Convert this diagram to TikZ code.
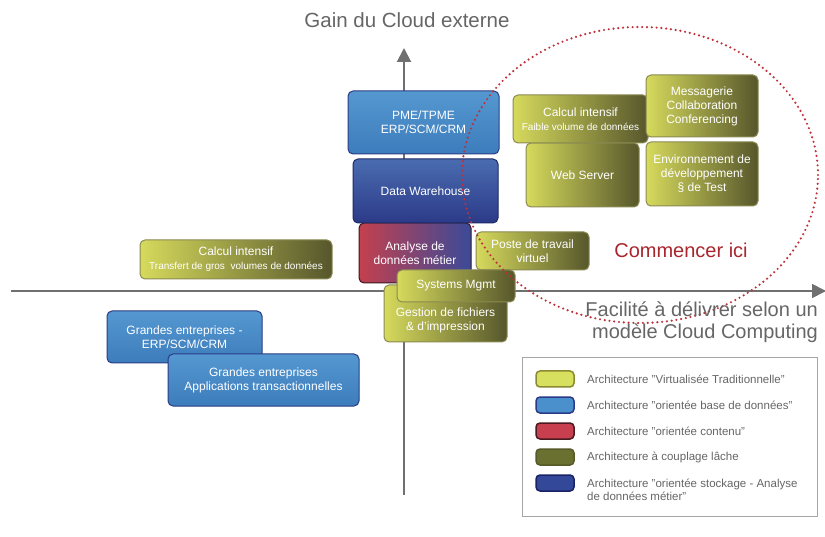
\documentclass[tikz,border=0pt]{standalone}
\usepackage{fontspec}
\setmainfont{Liberation Sans}
\usetikzlibrary{arrows.meta}
\definecolor{ylL}{HTML}{D6DA5C}
\definecolor{ylR}{HTML}{56562C}
\definecolor{ylB}{HTML}{8A8A52}
\definecolor{blT}{HTML}{5598D0}
\definecolor{blM}{HTML}{3C7CBC}
\definecolor{blB}{HTML}{2B3C84}
\definecolor{dwT}{HTML}{4A6CB0}
\definecolor{dwM}{HTML}{2C3A88}
\definecolor{dwB}{HTML}{1E2A66}
\definecolor{anL}{HTML}{C4404E}
\definecolor{anR}{HTML}{3A4A98}
\definecolor{anB}{HTML}{3C1820}
\definecolor{axisgray}{HTML}{707070}
\definecolor{txtgray}{HTML}{666666}
\definecolor{dotred}{HTML}{C0303A}
\definecolor{startred}{HTML}{A8262E}
\definecolor{legY}{HTML}{D8E060}
\definecolor{legYB}{HTML}{8A8A30}
\definecolor{legBl}{HTML}{4A90CC}
\definecolor{legBlB}{HTML}{2A3A88}
\definecolor{legR}{HTML}{C8404F}
\definecolor{legRB}{HTML}{4A1A20}
\definecolor{legO}{HTML}{6A7030}
\definecolor{legOB}{HTML}{555A28}
\definecolor{legD}{HTML}{34489A}
\definecolor{legDB}{HTML}{1A2266}
\begin{document}
\begin{tikzpicture}[x=1pt,y=-1pt,
  bx/.style={rounded corners=5pt, inner sep=0pt, align=center, text=white,
    font=\fontsize{12}{14}\selectfont, line width=1pt},
  ybox/.style={bx, left color=ylL, right color=ylR, draw=ylB},
  bbox/.style={bx, top color=blT, bottom color=blM, draw=blB},
  dwbox/.style={bx, top color=dwT, bottom color=dwM, draw=dwB},
  anbox/.style={bx, left color=anL, right color=anR, draw=anB},
  axisline/.style={draw=axisgray, line width=2pt, -{Triangle[width=14pt,length=14pt]}},
  biglabel/.style={text=txtgray, font=\fontsize{20}{22}\selectfont, inner sep=0pt},
  swatch/.style={rounded corners=4pt, line width=1.5pt, minimum width=38pt, minimum height=16pt, inner sep=0pt},
  legtext/.style={anchor=west, align=left, inner sep=0pt, text=txtgray, font=\fontsize{11.5}{12.5}\selectfont}
]
\useasboundingbox (0,0) rectangle (825,537);
\fill[white] (0,0) rectangle (825,537);

% axes
\coordinate (vb) at (404,495);
\coordinate (vt) at (404,48);
\coordinate (hl) at (11,291);
\coordinate (hr) at (826,291);
\draw[axisline] (vb) -- (vt);
\draw[axisline, line width=1.8pt] (hl) -- (hr);

% boxes
\node[bbox, minimum width=151pt, minimum height=63pt] (pme) at (423.5,122.5) {PME/TPME\\ERP/SCM/CRM};
\node[anbox, minimum width=112pt, minimum height=60pt] (ana) at (415,253) {Analyse de\\données métier};
\node[dwbox, minimum width=145pt, minimum height=64pt] (dw) at (425.5,191) {Data Warehouse};
\node[ybox, minimum width=113pt, minimum height=38pt] (poste) at (532.5,251) {Poste de travail\\virtuel};
\node[ybox, minimum width=123pt, minimum height=57pt] (gest) at (445.5,313.5) {};
\node[inner sep=0pt, align=center, text=white, font=\fontsize{12}{14}\selectfont] (gestT) at (445.5,320) {Gestion de fichiers\\\& d'impression};
\node[ybox, minimum width=118pt, minimum height=32pt] (sys) at (456,286) {Systems Mgmt};
\node[ybox, minimum width=192pt, minimum height=39pt] (calc1) at (236,259.5) {Calcul intensif\\{\fontsize{10}{12}\selectfont Transfert de gros\ \ volumes de données}};
\node[bbox, minimum width=155pt, minimum height=52pt] (ge1) at (184.5,337) {Grandes entreprises -\\ERP/SCM/CRM};
\node[bbox, minimum width=191pt, minimum height=52pt] (ge2) at (263.5,380) {Grandes entreprises\\Applications transactionnelles};
\node[ybox, minimum width=113pt, minimum height=64pt] (web) at (582.5,175) {Web Server};
\node[ybox, minimum width=135pt, minimum height=48pt] (calc2) at (580.5,119) {Calcul intensif\\{\fontsize{10}{12}\selectfont Faible volume de données}};
\node[ybox, minimum width=112pt, minimum height=62pt] (mess) at (702,106) {Messagerie\\Collaboration\\Conferencing};
\node[ybox, minimum width=112pt, minimum height=64pt] (env) at (702,174) {Environnement de\\développement\\§ de Test};

% dotted circle
\draw[dotred, line width=2.4pt, line cap=round, dash pattern=on 0pt off 4.8pt] (640,175) ellipse [x radius=178pt, y radius=148pt];

% labels
\node[biglabel, font=\fontsize{20.5}{22}\selectfont] (gain) at (407,20) {Gain du Cloud externe};
\node[biglabel, align=right, anchor=east] (facil) at (818,322) {Facilité à délivrer selon un\\modèle Cloud Computing};
\node[biglabel, text=startred] (start) at (681,250) {Commencer ici};

% legend
\node[draw=gray!70, line width=1pt, minimum width=295pt, minimum height=158pt, inner sep=0pt] (leg) at (669.5,437) {};
\node[swatch, fill=legY, draw=legYB] (s1) at (555,379) {};
\node[swatch, fill=legBl, draw=legBlB] (s2) at (555,405) {};
\node[swatch, fill=legR, draw=legRB] (s3) at (555,431) {};
\node[swatch, fill=legO, draw=legOB] (s4) at (555,457) {};
\node[swatch, fill=legD, draw=legDB] (s5) at (555,483) {};
\node[legtext] (t1) at (587,379) {Architecture "Virtualisée Traditionnelle"};
\node[legtext] (t2) at (587,405) {Architecture "orientée base de données"};
\node[legtext] (t3) at (587,431) {Architecture "orientée contenu"};
\node[legtext] (t4) at (587,457) {Architecture à couplage lâche};
\node[legtext] (t5) at (587,490) {Architecture "orientée stockage - Analyse\\de données métier"};
\end{tikzpicture}
\end{document}
